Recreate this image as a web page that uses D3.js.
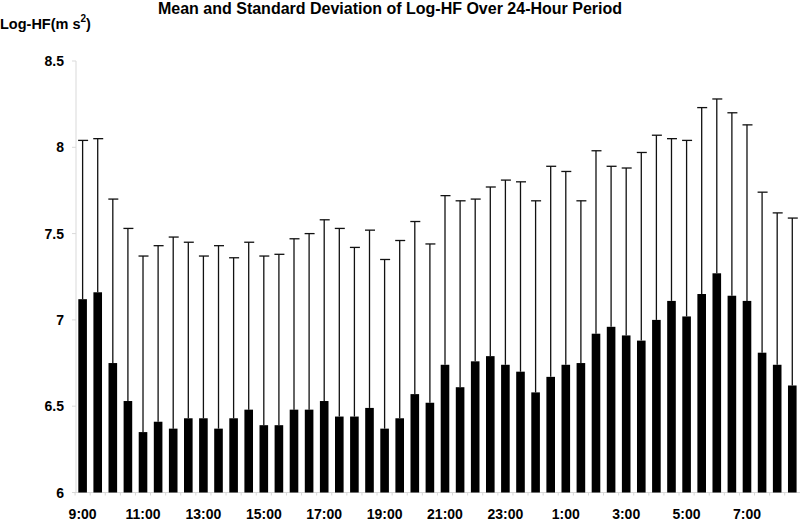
<!DOCTYPE html>
<html>
<head>
<meta charset="utf-8">
<script src="https://cdn.jsdelivr.net/npm/d3@7"></script>
<style>
  body { margin: 0; background: #fff; }
  text { font-family: Arial, "Liberation Sans", sans-serif; font-weight: bold; }
</style>
</head>
<body>
<div id="chart"></div>
<script>
// half-hour slots, 9:00 through 8:30
const slots = d3.range(48).map(i => {
    const m = 9 * 60 + i * 30;
    const h = Math.floor(m / 60) % 24;
    return h + ":" + (m % 60 === 0 ? "00" : "30");
});
const tickLabels = ["9:00", "11:00", "13:00", "15:00", "17:00", "19:00", "21:00", "23:00", "1:00", "3:00", "5:00", "7:00"];
const yTicks = [6, 6.5, 7, 7.5, 8, 8.5];

// mean log-HF per slot
const means = [7.12, 7.16, 6.75, 6.53, 6.35, 6.41, 6.37, 6.43, 6.43, 6.37, 6.43, 6.48,
               6.39, 6.39, 6.48, 6.48, 6.53, 6.44, 6.44, 6.49, 6.37, 6.43, 6.57, 6.52,
               6.74, 6.61, 6.76, 6.79, 6.74, 6.70, 6.58, 6.67, 6.74, 6.75, 6.92, 6.96,
               6.91, 6.88, 7.00, 7.11, 7.02, 7.15, 7.27, 7.14, 7.11, 6.81, 6.74, 6.62];
// mean + SD (top of error bar)
const upper = [8.04, 8.05, 7.70, 7.53, 7.37, 7.43, 7.48, 7.45, 7.37, 7.43, 7.36, 7.45,
               7.37, 7.38, 7.47, 7.50, 7.58, 7.53, 7.42, 7.52, 7.35, 7.46, 7.57, 7.44,
               7.72, 7.69, 7.70, 7.77, 7.81, 7.80, 7.69, 7.89, 7.86, 7.69, 7.98, 7.89,
               7.88, 7.97, 8.07, 8.05, 8.04, 8.23, 8.28, 8.20, 8.13, 7.74, 7.62, 7.59];

const data = slots.map((s, i) => ({slot: s, mean: means[i], hi: upper[i]}));

const width = 800, height = 521;
const svg = d3.select("#chart").append("svg")
    .attr("width", width)
    .attr("height", height);

const x = d3.scaleBand()
    .domain(slots)
    .range([76.8, 798.1])
    .paddingInner(0.43)
    .paddingOuter(0.1);

const y = d3.scaleLinear()
    .domain([6, 8.5])
    .range([492.5, 61]);

const axisColor = "#d9d9d9";

// y axis
svg.append("line")
    .attr("x1", 76).attr("x2", 76)
    .attr("y1", y(8.5)).attr("y2", y(6))
    .attr("stroke", axisColor);

svg.selectAll(".ytick")
    .data(yTicks)
    .enter().append("line")
    .attr("x1", 72).attr("x2", 76)
    .attr("y1", d => y(d)).attr("y2", d => y(d))
    .attr("stroke", axisColor);

svg.selectAll(".ylab")
    .data(yTicks)
    .enter().append("text")
    .attr("x", 64)
    .attr("y", d => y(d))
    .attr("dy", "0.36em")
    .attr("text-anchor", "end")
    .attr("font-size", 14)
    .text(d => d);

// x axis
svg.append("line")
    .attr("x1", 76).attr("x2", 800)
    .attr("y1", y(6)).attr("y2", y(6))
    .attr("stroke", axisColor);

svg.selectAll(".xtick")
    .data(slots)
    .enter().append("line")
    .attr("x1", d => x(d) - x.step() * x.paddingInner() / 2)
    .attr("x2", d => x(d) - x.step() * x.paddingInner() / 2)
    .attr("y1", y(6)).attr("y2", y(6) + 3)
    .attr("stroke", axisColor);

svg.selectAll(".xlab")
    .data(tickLabels)
    .enter().append("text")
    .attr("x", d => x(d) + x.bandwidth() / 2)
    .attr("y", 519)
    .attr("text-anchor", "middle")
    .attr("font-size", 14)
    .text(d => d);

// error bars
const err = svg.append("g").attr("stroke", "#111").attr("stroke-width", 1.3);

err.selectAll(".stem")
    .data(data)
    .enter().append("line")
    .attr("x1", d => x(d.slot) + x.bandwidth() / 2)
    .attr("x2", d => x(d.slot) + x.bandwidth() / 2)
    .attr("y1", d => y(d.mean))
    .attr("y2", d => y(d.hi));

err.selectAll(".cap")
    .data(data)
    .enter().append("line")
    .attr("x1", d => x(d.slot) + x.bandwidth() / 2 - 4.5)
    .attr("x2", d => x(d.slot) + x.bandwidth() / 2 + 5.5)
    .attr("y1", d => y(d.hi))
    .attr("y2", d => y(d.hi));

// bars
svg.selectAll(".bar")
    .data(data)
    .enter().append("rect")
    .attr("x", d => x(d.slot))
    .attr("y", d => y(d.mean))
    .attr("width", x.bandwidth())
    .attr("height", d => y(6) - y(d.mean))
    .attr("fill", "#000");

// title
svg.append("text")
    .attr("x", 390)
    .attr("y", 14)
    .attr("text-anchor", "middle")
    .attr("font-size", 16)
    .text("Mean and Standard Deviation of Log-HF Over 24-Hour Period");

// y label
const ylab = svg.append("text")
    .attr("x", 0)
    .attr("y", 29)
    .attr("font-size", 14.5);
ylab.append("tspan").text("Log-HF(m s");
ylab.append("tspan").attr("dy", -7).attr("font-size", 10).text("2");
ylab.append("tspan").attr("dy", 7).text(")");
</script>
</body>
</html>
